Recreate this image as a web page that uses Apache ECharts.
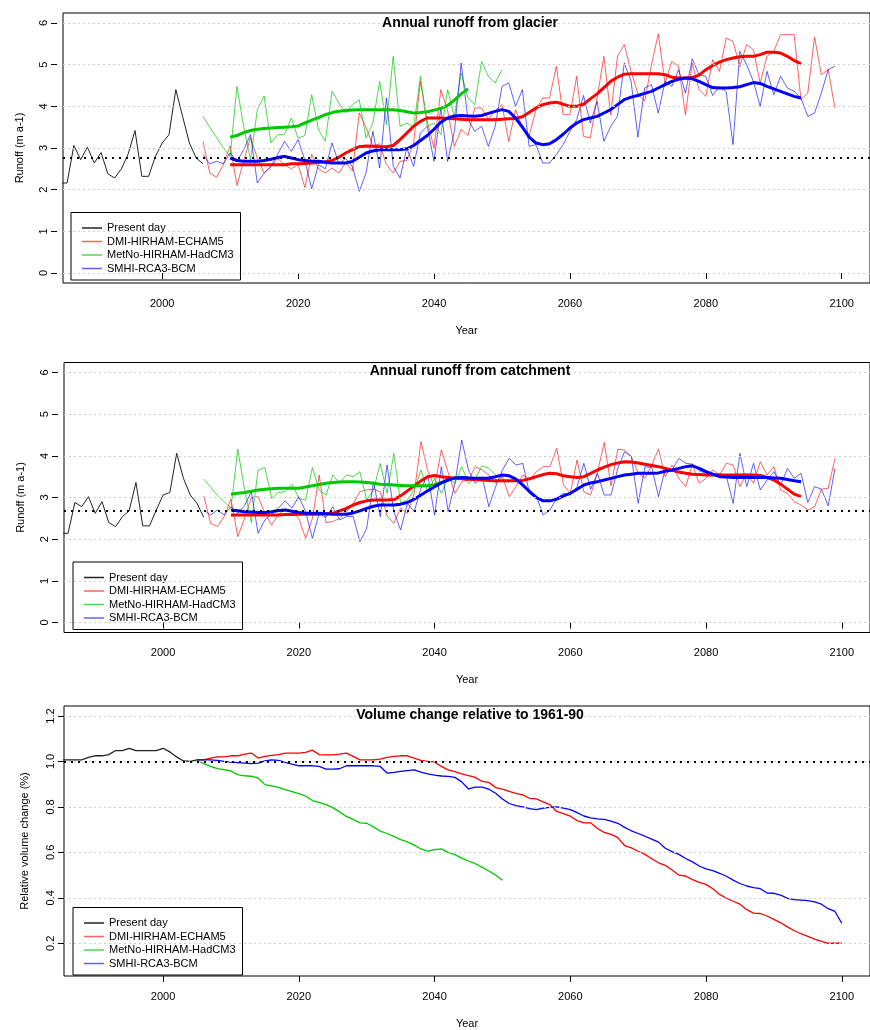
<!DOCTYPE html>
<html>
<head>
<meta charset="utf-8">
<title>Annual runoff and volume change</title>
<script src="https://cdn.jsdelivr.net/npm/echarts@6/dist/echarts.min.js"></script>
<style>
html, body { margin: 0; padding: 0; background: #fff; }
#chart { width: 870px; height: 1030px; }
</style>
</head>
<body>
<div id="chart"></div>
<script>
// ---------- data ----------
var yearTicks = [2000, 2020, 2040, 2060, 2080, 2100];
var runoffTicks = [0, 1, 2, 3, 4, 5, 6];
var volumeTicks = [0.2, 0.4, 0.6, 0.8, 1.0, 1.2];
var legendNames = ['Present day', 'DMI-HIRHAM-ECHAM5', 'MetNo-HIRHAM-HadCM3', 'SMHI-RCA3-BCM'];
var titles = ['Annual runoff from glacier', 'Annual runoff from catchment', 'Volume change relative to 1961-90'];
var presentMean = [2.76, 2.68, 1.0];

var presentStart = 1985;   // black, yearly
var modelStart = 2006;     // thin model lines, yearly
var smoothStart = 2010;    // thick running means
var volStart = 2005;       // volume change

// glacier runoff
var glacPresent = [2.16, 2.16, 3.06, 2.72, 3.02, 2.64, 2.89, 2.38, 2.28, 2.5, 2.86, 3.42, 2.32, 2.32, 2.8, 3.12, 3.32, 4.40, 3.76, 3.12, 2.76, 2.62];
var glacDmi = [3.16, 2.4, 2.3, 2.6, 3.05, 2.1, 2.7, 3.25, 2.75, 2.4,
  2.55, 2.75, 2.6, 2.5, 2.6, 2.05, 2.85, 2.5, 2.4, 2.52,
  2.4, 2.65, 2.45, 3.84, 3.5, 3.05, 3.1, 2.6, 2.4, 2.68,
  2.7, 3.12, 4.6, 3.65, 3.0, 4.4, 3.9, 3.04, 3.45, 3.3,
  3.96, 3.96, 3.7, 3.9, 4.04, 3.16, 3.92, 3.5, 3.3, 3.92,
  4.2, 4.2, 4.96, 3.8, 3.8, 4.72, 3.28, 3.24, 4.2, 5.2,
  3.8, 5.2, 5.48, 4.84, 4.3, 4.12, 5.0, 5.74, 4.56, 5.08,
  4.96, 3.8, 5.04, 4.4, 4.24, 5.12, 4.84, 5.64, 5.56, 4.96,
  5.48, 5.36, 4.56, 5.2, 5.32, 5.72, 5.72, 5.72, 4.16, 4.32,
  5.66, 4.76, 4.88, 3.96];
var glacMetno = [3.76, 3.5, 3.25, 3.0, 2.8, 4.48, 3.5, 2.72, 3.92, 4.25,
  3.12, 3.32, 3.32, 3.72, 3.24, 3.3, 4.28, 3.44, 3.16, 4.36,
  4.08, 3.84, 4.04, 4.16, 3.24, 3.6, 4.6, 3.56, 5.2, 3.52,
  3.6, 3.5, 4.72, 3.52, 3.6, 3.32, 4.4, 3.76, 4.8, 4.2,
  4.04, 5.08, 4.72, 4.56, 4.88];
var glacSmhi = [2.84, 2.62, 2.68, 2.62, 2.88, 2.68, 2.96, 3.32, 2.16, 2.4,
  2.56, 2.85, 3.16, 2.92, 3.2, 2.7, 2.02, 2.6, 2.5, 3.12,
  2.62, 2.75, 2.55, 1.96, 2.4, 3.4, 2.52, 4.2, 2.56, 2.28,
  3.0, 2.56, 3.36, 3.52, 2.68, 3.96, 2.68, 3.4, 5.04, 3.68,
  3.4, 3.52, 3.04, 3.52, 4.48, 4.56, 4.0, 4.4, 3.04, 3.08,
  2.64, 2.64, 2.84, 3.08, 3.4, 3.68, 4.26, 3.6, 4.12, 3.16,
  3.52, 3.76, 5.04, 4.6, 3.26, 4.44, 4.52, 3.84, 4.6, 4.48,
  4.88, 4.32, 5.14, 4.76, 4.72, 4.26, 4.48, 4.35, 3.08, 5.32,
  5.0, 4.6, 4.0, 4.84, 4.28, 4.72, 4.44, 4.36, 4.2, 3.76,
  3.84, 4.32, 4.88, 4.96];
var glacDmiSmooth = [2.6, 2.6, 2.6, 2.6, 2.6, 2.6, 2.6, 2.6, 2.6, 2.62,
  2.62, 2.63, 2.64, 2.65, 2.67, 2.7, 2.78, 2.88, 2.96, 3.03,
  3.05, 3.04, 3.03, 3.03, 3.06, 3.2, 3.36, 3.52, 3.64, 3.72,
  3.72, 3.72, 3.71, 3.7, 3.69, 3.68, 3.68, 3.68, 3.68, 3.68,
  3.69, 3.7, 3.71, 3.75, 3.85, 3.96, 4.04, 4.08, 4.1, 4.05,
  4.0, 4.0, 4.05, 4.18, 4.3, 4.45, 4.6, 4.7, 4.77, 4.78,
  4.78, 4.78, 4.78, 4.78, 4.76, 4.7, 4.68, 4.68, 4.69, 4.75,
  4.88, 4.98, 5.06, 5.12, 5.16, 5.19, 5.2, 5.2, 5.24, 5.3,
  5.3, 5.28, 5.2, 5.1, 5.02];
var glacMetnoSmooth = [3.26, 3.3, 3.37, 3.42, 3.45, 3.47, 3.48, 3.49, 3.5, 3.51,
  3.53, 3.6, 3.67, 3.73, 3.8, 3.85, 3.88, 3.9, 3.91, 3.92,
  3.92, 3.92, 3.92, 3.92, 3.92, 3.9, 3.87, 3.84, 3.85, 3.87,
  3.91, 3.95, 4.02, 4.15, 4.3, 4.42];
var glacSmhiSmooth = [2.76, 2.7, 2.68, 2.68, 2.68, 2.7, 2.73, 2.77, 2.8, 2.76,
  2.72, 2.7, 2.68, 2.68, 2.66, 2.64, 2.64, 2.64, 2.68, 2.78,
  2.88, 2.93, 2.96, 2.96, 2.96, 2.96, 2.98, 3.06, 3.18, 3.3,
  3.45, 3.62, 3.72, 3.77, 3.78, 3.77, 3.76, 3.78, 3.83, 3.88,
  3.92, 3.88, 3.72, 3.5, 3.26, 3.12, 3.08, 3.1, 3.2, 3.33,
  3.48, 3.6, 3.68, 3.72, 3.76, 3.84, 3.92, 4.04, 4.16, 4.22,
  4.26, 4.31, 4.36, 4.44, 4.52, 4.6, 4.65, 4.68, 4.66, 4.6,
  4.52, 4.45, 4.44, 4.44, 4.45, 4.47, 4.52, 4.57, 4.55, 4.48,
  4.42, 4.36, 4.3, 4.24, 4.2];

// catchment runoff
var catchPresent = [2.14, 2.14, 2.88, 2.78, 3.02, 2.62, 2.9, 2.4, 2.3, 2.54, 2.68, 3.36, 2.32, 2.32, 2.7, 3.06, 3.12, 4.06, 3.46, 3.06, 2.86, 2.52];
var catchDmi = [3.04, 2.38, 2.3, 2.54, 2.96, 2.06, 2.5, 3.0, 3.02, 2.62,
  2.34, 2.6, 2.72, 2.65, 2.5, 2.02, 2.5, 3.54, 2.4, 2.42,
  2.5, 2.66, 2.85, 3.14, 3.18, 3.2, 3.14, 2.56, 2.38, 2.75,
  2.62, 3.1, 4.34, 3.64, 3.25, 4.14, 3.6, 3.1, 3.38, 3.42,
  3.74, 3.66, 3.54, 3.34, 3.5, 3.02, 3.26, 3.54, 3.42, 3.62,
  3.74, 3.74, 4.18, 3.3, 3.1, 3.9, 3.14, 3.06, 3.6, 4.32,
  3.28, 4.16, 4.14, 3.98, 3.58, 3.46, 3.78, 4.16, 3.5, 3.78,
  3.46, 3.26, 3.8, 3.34, 3.46, 3.66, 3.54, 3.82, 3.78, 3.26,
  3.58, 3.34, 3.86, 3.54, 3.74, 3.18, 3.1, 2.9, 2.82, 2.7,
  2.78, 3.2, 3.22, 3.94];
var catchMetno = [3.44, 3.25, 3.05, 2.9, 2.74, 4.16, 3.2, 2.4, 3.66, 3.72,
  2.98, 3.12, 3.14, 3.32, 2.98, 2.94, 3.72, 3.18, 3.06, 3.54,
  3.34, 3.54, 3.5, 3.62, 2.94, 3.18, 3.82, 3.1, 4.06, 2.86,
  2.94, 3.18, 3.66, 3.14, 3.46, 3.1, 3.46, 3.34, 3.74, 3.34,
  3.45, 3.76, 3.7, 3.54, 3.46];
var catchSmhi = [2.7, 2.58, 2.7, 2.58, 2.78, 2.62, 2.8, 3.14, 2.14, 2.46,
  2.6, 2.75, 2.92, 2.75, 3.02, 2.66, 2.02, 2.62, 2.52, 2.78,
  2.46, 2.54, 2.55, 1.94, 2.26, 3.38, 2.54, 3.78, 2.66, 2.22,
  2.86, 2.66, 3.22, 3.54, 2.58, 3.74, 2.66, 3.34, 4.38, 3.66,
  3.34, 3.5, 2.78, 3.26, 3.66, 3.94, 3.78, 3.82, 3.1, 3.02,
  2.58, 2.7, 2.98, 3.1, 3.06, 3.26, 3.82, 3.2, 3.58, 3.06,
  3.06, 3.7, 4.1, 3.98, 2.86, 3.74, 3.72, 3.02, 3.7, 3.66,
  3.94, 3.82, 3.8, 3.64, 3.58, 3.54, 3.58, 3.5, 2.86, 4.06,
  3.26, 3.82, 3.18, 3.42, 3.62, 3.3, 3.7, 3.46, 3.58, 2.88,
  3.26, 3.2, 2.8, 3.7];
var catchDmiSmooth = [2.58, 2.58, 2.58, 2.58, 2.58, 2.58, 2.58, 2.58, 2.59, 2.59,
  2.6, 2.6, 2.6, 2.6, 2.61, 2.62, 2.68, 2.74, 2.82, 2.88,
  2.92, 2.94, 2.94, 2.94, 2.95, 3.04, 3.16, 3.28, 3.4, 3.5,
  3.53, 3.5, 3.48, 3.46, 3.45, 3.44, 3.43, 3.42, 3.41, 3.4,
  3.4, 3.4, 3.4, 3.41, 3.45, 3.5, 3.55, 3.58, 3.57, 3.52,
  3.5, 3.48, 3.5, 3.58, 3.66, 3.73, 3.79, 3.83, 3.86, 3.85,
  3.83, 3.8, 3.77, 3.74, 3.7, 3.65, 3.61, 3.58, 3.56, 3.55,
  3.54, 3.54, 3.54, 3.54, 3.54, 3.54, 3.54, 3.54, 3.53, 3.48,
  3.42, 3.32, 3.2, 3.08, 3.02];
var catchMetnoSmooth = [3.08, 3.1, 3.12, 3.15, 3.18, 3.2, 3.21, 3.22, 3.22, 3.22,
  3.22, 3.25, 3.28, 3.31, 3.34, 3.36, 3.37, 3.38, 3.38, 3.37,
  3.36, 3.34, 3.32, 3.31, 3.3, 3.29, 3.28, 3.28, 3.28, 3.28,
  3.3, 3.36, 3.42, 3.47, 3.48, 3.48];
var catchSmhiSmooth = [2.7, 2.68, 2.66, 2.65, 2.64, 2.64, 2.66, 2.69, 2.7, 2.67,
  2.64, 2.62, 2.62, 2.62, 2.61, 2.6, 2.6, 2.6, 2.63, 2.68,
  2.74, 2.79, 2.82, 2.82, 2.82, 2.84, 2.88, 2.96, 3.06, 3.16,
  3.26, 3.35, 3.42, 3.47, 3.48, 3.47, 3.46, 3.46, 3.47, 3.5,
  3.54, 3.52, 3.44, 3.3, 3.14, 3.0, 2.92, 2.92, 2.96, 3.04,
  3.1, 3.2, 3.3, 3.35, 3.38, 3.42, 3.46, 3.5, 3.54, 3.56,
  3.58, 3.58, 3.58, 3.59, 3.63, 3.66, 3.7, 3.74, 3.76, 3.7,
  3.62, 3.56, 3.5, 3.49, 3.48, 3.48, 3.48, 3.48, 3.48, 3.48,
  3.47, 3.46, 3.43, 3.4, 3.38];

// relative volume change
var volPresent = [1.007, 1.007, 1.007, 1.007, 1.018, 1.025, 1.025, 1.03, 1.048, 1.048, 1.058, 1.048, 1.048, 1.048, 1.048, 1.058, 1.042, 1.02, 1.002, 1.0, 1.007];
var volDmi = [1.007, 1.007, 1.015, 1.02, 1.02, 1.025, 1.025, 1.032, 1.037, 1.015,
  1.022, 1.027, 1.03, 1.037, 1.037, 1.037, 1.04, 1.05, 1.03, 1.029,
  1.029, 1.032, 1.037, 1.022, 1.007, 1.007, 1.007, 1.01, 1.018, 1.022,
  1.025, 1.025, 1.015, 1.005, 1.0, 0.998, 0.978, 0.963, 0.955, 0.945,
  0.938, 0.93, 0.912, 0.908, 0.885, 0.878, 0.868, 0.86, 0.853, 0.838,
  0.835, 0.822, 0.81, 0.78, 0.77, 0.759, 0.74, 0.73, 0.73, 0.705,
  0.688, 0.679, 0.665, 0.63, 0.62, 0.605, 0.591, 0.572, 0.554, 0.543,
  0.522, 0.5, 0.496, 0.48, 0.468, 0.459, 0.44, 0.415, 0.398, 0.385,
  0.372, 0.348, 0.333, 0.331, 0.32, 0.305, 0.29, 0.272, 0.255, 0.242,
  0.23, 0.218, 0.208, 0.2, 0.2, 0.2];
var volMetno = [1.007, 0.99, 0.978, 0.968, 0.964, 0.958, 0.942, 0.937, 0.935, 0.927,
  0.898, 0.893, 0.886, 0.876, 0.867, 0.858, 0.848, 0.828, 0.82, 0.81,
  0.797, 0.778, 0.758, 0.745, 0.73, 0.728, 0.712, 0.693, 0.683, 0.67,
  0.656, 0.646, 0.632, 0.615, 0.605, 0.612, 0.615, 0.6, 0.59, 0.575,
  0.562, 0.55, 0.535, 0.518, 0.5, 0.477];
var volSmhi = [1.007, 1.007, 1.007, 1.005, 1.0, 0.997, 0.995, 0.993, 0.99, 0.993,
  1.003, 1.007, 1.005, 0.996, 0.988, 0.981, 0.981, 0.981, 0.978, 0.966,
  0.966, 0.968, 0.981, 0.981, 0.981, 0.981, 0.981, 0.978, 0.949, 0.952,
  0.956, 0.96, 0.963, 0.953, 0.945, 0.94, 0.936, 0.934, 0.93, 0.91,
  0.879, 0.887, 0.887, 0.878, 0.86, 0.835, 0.815, 0.806, 0.8, 0.792,
  0.788, 0.795, 0.798, 0.8, 0.795, 0.788, 0.775, 0.76, 0.752, 0.747,
  0.745, 0.737, 0.728, 0.71, 0.695, 0.683, 0.671, 0.658, 0.645, 0.618,
  0.603, 0.591, 0.573, 0.558, 0.54, 0.527, 0.52, 0.508, 0.495, 0.478,
  0.463, 0.452, 0.445, 0.44, 0.421, 0.42, 0.412, 0.398, 0.392, 0.39,
  0.388, 0.382, 0.372, 0.352, 0.34, 0.288];

// ---------- chart ----------
var FONT = '"Liberation Sans", Arial, Helvetica, sans-serif';
var RED = '#ff0000', GREEN = '#00c800', BLUE = '#0000ff';
var RED_T = 'rgba(255,0,0,0.62)', GREEN_T = 'rgba(0,200,0,0.7)', BLUE_T = 'rgba(0,0,255,0.62)';

function toPairs(start, vals) {
  return vals.map(function (v, i) { return [start + i, v]; });
}

function line(name, g, start, vals, color, width, z) {
  return {
    name: name, type: 'line', xAxisIndex: g, yAxisIndex: g,
    data: toPairs(start, vals), symbol: 'none', showSymbol: false,
    lineStyle: { color: color, width: width }, itemStyle: { color: color },
    z: z, silent: true, animation: false
  };
}

// grid lines + present-day mean, drawn under the data
function refLines(g, ticks, mean) {
  var d = ticks.map(function (t) {
    return { yAxis: t, lineStyle: { color: '#cfcfcf', type: [2, 3], width: 1 } };
  });
  d.push({ yAxis: mean, lineStyle: { color: '#000', type: [2, 5], width: 2 } });
  return {
    type: 'line', xAxisIndex: g, yAxisIndex: g, data: [], z: 1, silent: true,
    markLine: { symbol: ['none', 'none'], silent: true, animation: false,
      label: { show: false }, data: d }
  };
}

var grids = [
  { left: 63, top: 13, width: 813, height: 270 },
  { left: 64, top: 362.5, width: 813, height: 270 },
  { left: 64, top: 706, width: 813, height: 271 }
];
grids.forEach(function (g) {
  g.show = true; g.borderColor = '#000'; g.borderWidth = 1; g.containLabel = false;
});

var xAxes = grids.map(function (g, i) {
  return {
    gridIndex: i, type: 'value', min: 1985.4, max: 2104.16,
    axisLine: { show: false }, splitLine: { show: false },
    axisTick: { show: true, length: 6, customValues: yearTicks, lineStyle: { color: '#000' } },
    axisLabel: { customValues: yearTicks, margin: 15, fontSize: 11, color: '#000', fontFamily: FONT,
      formatter: function (v) { return String(v); } },
    name: 'Year', nameLocation: 'middle', nameGap: 42,
    nameTextStyle: { fontSize: 11, color: '#000', fontFamily: FONT }
  };
});

var yAxes = [0, 1, 2].map(function (i) {
  var vol = i === 2;
  return {
    gridIndex: i, type: 'value',
    min: vol ? 0.056 : -0.24, max: vol ? 1.244 : 6.24,
    offset: vol ? 0 : 6,
    axisLine: { show: false }, splitLine: { show: false },
    axisTick: { show: true, length: 6, customValues: vol ? volumeTicks : runoffTicks, lineStyle: { color: '#000' } },
    axisLabel: {
      customValues: vol ? volumeTicks : runoffTicks, rotate: 90, margin: 8,
      fontSize: 11, color: '#000', fontFamily: FONT,
      formatter: function (v) { return vol ? v.toFixed(1) : String(v); }
    },
    name: vol ? 'Relative volume change (%)' : 'Runoff (m a-1)',
    nameLocation: 'middle', nameGap: vol ? 34 : 32, nameRotate: 90,
    nameTextStyle: { fontSize: 11, color: '#000', fontFamily: FONT }
  };
});

var titleTops = [16, 364.5, 708.5];
var title = titles.map(function (t, i) {
  return {
    text: t, left: 470, top: titleTops[i], textAlign: 'center', padding: 0,
    textStyle: { fontSize: 14, fontWeight: 'bold', color: '#000', fontFamily: FONT }
  };
});

var legendTops = [212.5, 562, 907.5];
var legend = legendTops.map(function (t, i) {
  return {
    data: legendNames, orient: 'vertical', left: i === 0 ? 71 : 73, top: t,
    icon: 'rect', itemWidth: 20, itemHeight: 1.5, itemGap: 0.5, selectedMode: false,
    padding: [9, 7, 5, 11], borderColor: '#000', borderWidth: 1, borderRadius: 0,
    textStyle: { fontSize: 11, lineHeight: 13, color: '#000', fontFamily: FONT }
  };
});

var series = [
  refLines(0, runoffTicks, presentMean[0]),
  line('Present day', 0, presentStart, glacPresent, '#222', 1, 2),
  line('DMI-HIRHAM-ECHAM5', 0, modelStart, glacDmi, RED_T, 1, 2),
  line('MetNo-HIRHAM-HadCM3', 0, modelStart, glacMetno, GREEN_T, 1, 2),
  line('SMHI-RCA3-BCM', 0, modelStart, glacSmhi, BLUE_T, 1, 2),
  line('DMI mean 1', 0, smoothStart, glacDmiSmooth, RED, 3, 3),
  line('MetNo mean 1', 0, smoothStart, glacMetnoSmooth, GREEN, 3, 3),
  line('SMHI mean 1', 0, smoothStart, glacSmhiSmooth, BLUE, 3, 3),

  refLines(1, runoffTicks, presentMean[1]),
  line('Present day', 1, presentStart, catchPresent, '#222', 1, 2),
  line('DMI-HIRHAM-ECHAM5', 1, modelStart, catchDmi, RED_T, 1, 2),
  line('MetNo-HIRHAM-HadCM3', 1, modelStart, catchMetno, GREEN_T, 1, 2),
  line('SMHI-RCA3-BCM', 1, modelStart, catchSmhi, BLUE_T, 1, 2),
  line('DMI mean 2', 1, smoothStart, catchDmiSmooth, RED, 3, 3),
  line('MetNo mean 2', 1, smoothStart, catchMetnoSmooth, GREEN, 3, 3),
  line('SMHI mean 2', 1, smoothStart, catchSmhiSmooth, BLUE, 3, 3),

  refLines(2, volumeTicks, presentMean[2]),
  line('Present day', 2, presentStart, volPresent, '#222', 1.3, 2),
  line('DMI-HIRHAM-ECHAM5', 2, volStart, volDmi, RED, 1.3, 2),
  line('MetNo-HIRHAM-HadCM3', 2, volStart, volMetno, GREEN, 1.3, 2),
  line('SMHI-RCA3-BCM', 2, volStart, volSmhi, BLUE, 1.3, 2)
];

var chart = echarts.init(document.getElementById('chart'), null, { renderer: 'canvas' });
chart.setOption({
  backgroundColor: '#fff',
  animation: false,
  title: title,
  legend: legend,
  grid: grids,
  xAxis: xAxes,
  yAxis: yAxes,
  series: series
});
</script>
</body>
</html>
